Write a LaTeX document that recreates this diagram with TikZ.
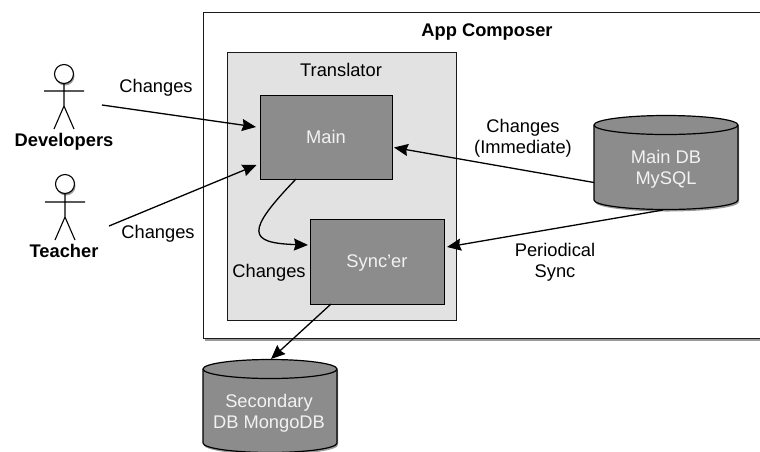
\documentclass[tikz,border=0pt]{standalone}
\usepackage{fontspec}
\setmainfont{Liberation Sans}
\usetikzlibrary{arrows.meta,shadows}
\definecolor{boxgray}{HTML}{8C8C8C}
\definecolor{panelgray}{HTML}{E2E2E2}
\definecolor{inkgray}{HTML}{1A1A1A}
\definecolor{softwhite}{HTML}{F2F2F2}
\tikzset{
  softshadow/.style={drop shadow={shadow xshift=1pt,shadow yshift=-2pt,opacity=.4,fill=black}},
  outerbox/.style={draw=inkgray,line width=1.4pt,fill=white,softshadow},
  panel/.style={draw=inkgray,line width=1.2pt,fill=panelgray},
  procbox/.style={draw=black,line width=1.2pt,fill=boxgray},
  dbbody/.style={draw=black,line width=1.2pt,fill=boxgray,line join=round,softshadow},
  dbtop/.style={draw=black,line width=1.2pt},
  lbl/.style={inner sep=0pt,anchor=base,align=center,font=\fontsize{18.3}{21}\selectfont,text=black},
  lbllight/.style={lbl,text=softwhite},
  actorname/.style={inner sep=0pt,anchor=base,font=\bfseries\fontsize{18.3}{21}\selectfont},
  conn/.style={line width=1.3pt,-{Stealth[length=14pt,width=12pt,inset=1.5pt]}},
  stick/.style={line width=1.1pt},
  head/.style={circle,draw=black,line width=1.1pt,fill=white,minimum size=19pt,inner sep=0pt,softshadow}
}
\newcommand{\dbshape}[5]{% x-left, x-right, y-top centre, y-bottom centre, ry
  \path[dbbody] (#1,#3) arc[start angle=180,end angle=360,x radius={(#2-#1)/2},y radius=#5]
    -- (#2,#4) arc[start angle=0,end angle=180,x radius={(#2-#1)/2},y radius=#5] -- cycle;
  \draw[dbtop] (#1,#3) arc[start angle=180,end angle=0,x radius={(#2-#1)/2},y radius=#5];
}
\begin{document}
\begin{tikzpicture}[x=1pt,y=-1pt]
\useasboundingbox (0,0) rectangle (760,451);
\clip (0,0) rectangle (760,451);
\fill[white] (0,0) rectangle (760,451);
% outer frame
\node[outerbox,minimum width=600pt,minimum height=326pt,inner sep=0pt,anchor=north west] (composer) at (203,12) {};
\node[actorname] (title) at (487,36) {App Composer};
\node[panel,minimum width=229pt,minimum height=268pt,inner sep=0pt,anchor=north west] (translator) at (227,52) {};
\node[lbl] (translabel) at (341,76) {Translator};
\node[procbox,minimum width=132pt,minimum height=84pt,inner sep=0pt,anchor=north west] (main) at (260,95) {};
\node[lbllight] (mainlabel) at (326,143.5) {Main};
\node[procbox,minimum width=134pt,minimum height=85pt,inner sep=0pt,anchor=north west] (sync) at (310,219) {};
\node[lbllight] (synclabel) at (377,267.5) {Sync’er};
% databases
\dbshape{594}{738}{125}{200}{9.5}
\node[lbllight] (maindb) at (666,184) {Main DB\\MySQL};
\dbshape{203}{337}{369}{443}{9.5}
\node[lbllight] (secdb) at (269,428) {Secondary\\DB MongoDB};
% actors
\node[head] (devhead) at (64,74) {};
\coordinate (devneck) at (64,106);
\coordinate (devarml) at (44,91);
\coordinate (devarmr) at (84,91);
\coordinate (devlegl) at (54,129);
\coordinate (devlegr) at (74,129);
\draw[stick] (devhead) -- (devneck) (devarml) -- (devarmr) (devlegl) -- (devneck) -- (devlegr);
\node[actorname] (devname) at (64,146.7) {Developers};
\node[head] (teahead) at (65,184) {};
\coordinate (teaneck) at (65,217);
\coordinate (teaarml) at (45,202);
\coordinate (teaarmr) at (85,202);
\coordinate (tealegl) at (55,240);
\coordinate (tealegr) at (75,240);
\draw[stick] (teahead) -- (teaneck) (teaarml) -- (teaarmr) (tealegl) -- (teaneck) -- (tealegr);
\node[actorname] (teaname) at (64,257) {Teacher};
% connector ends
\coordinate (devout) at (102,105);
\coordinate (teaout) at (109,226);
\coordinate (mainin1) at (256,127);
\coordinate (mainin2) at (256.5,165);
\coordinate (mainin3) at (394,147.5);
\coordinate (dbout1) at (594,182.5);
\coordinate (dbout2) at (663,210);
\coordinate (syncin1) at (447,247);
\coordinate (mainout) at (296,179);
\coordinate (syncin2) at (308,245);
\coordinate (syncout) at (331,304);
\coordinate (secin) at (271,359);
\draw[conn] (devout) -- (mainin1);
\draw[conn] (teaout) -- (mainin2);
\draw[conn] (dbout1) -- (mainin3);
\draw[conn] (dbout2) -- (syncin1);
\draw[conn] (mainout) .. controls (245,232) and (248,243) .. (syncin2);
\draw[conn] (syncout) -- (secin);
% labels
\node[lbl] (l1) at (156,92.5) {Changes};
\node[lbl] (l2) at (158,238.7) {Changes};
\node[lbl] (l3) at (269,277.3) {Changes};
\node[lbl] (l4) at (523,153) {Changes\\(Immediate)};
\node[lbl] (l5) at (555,277.5) {Periodical\\Sync};
\end{tikzpicture}
\end{document}
